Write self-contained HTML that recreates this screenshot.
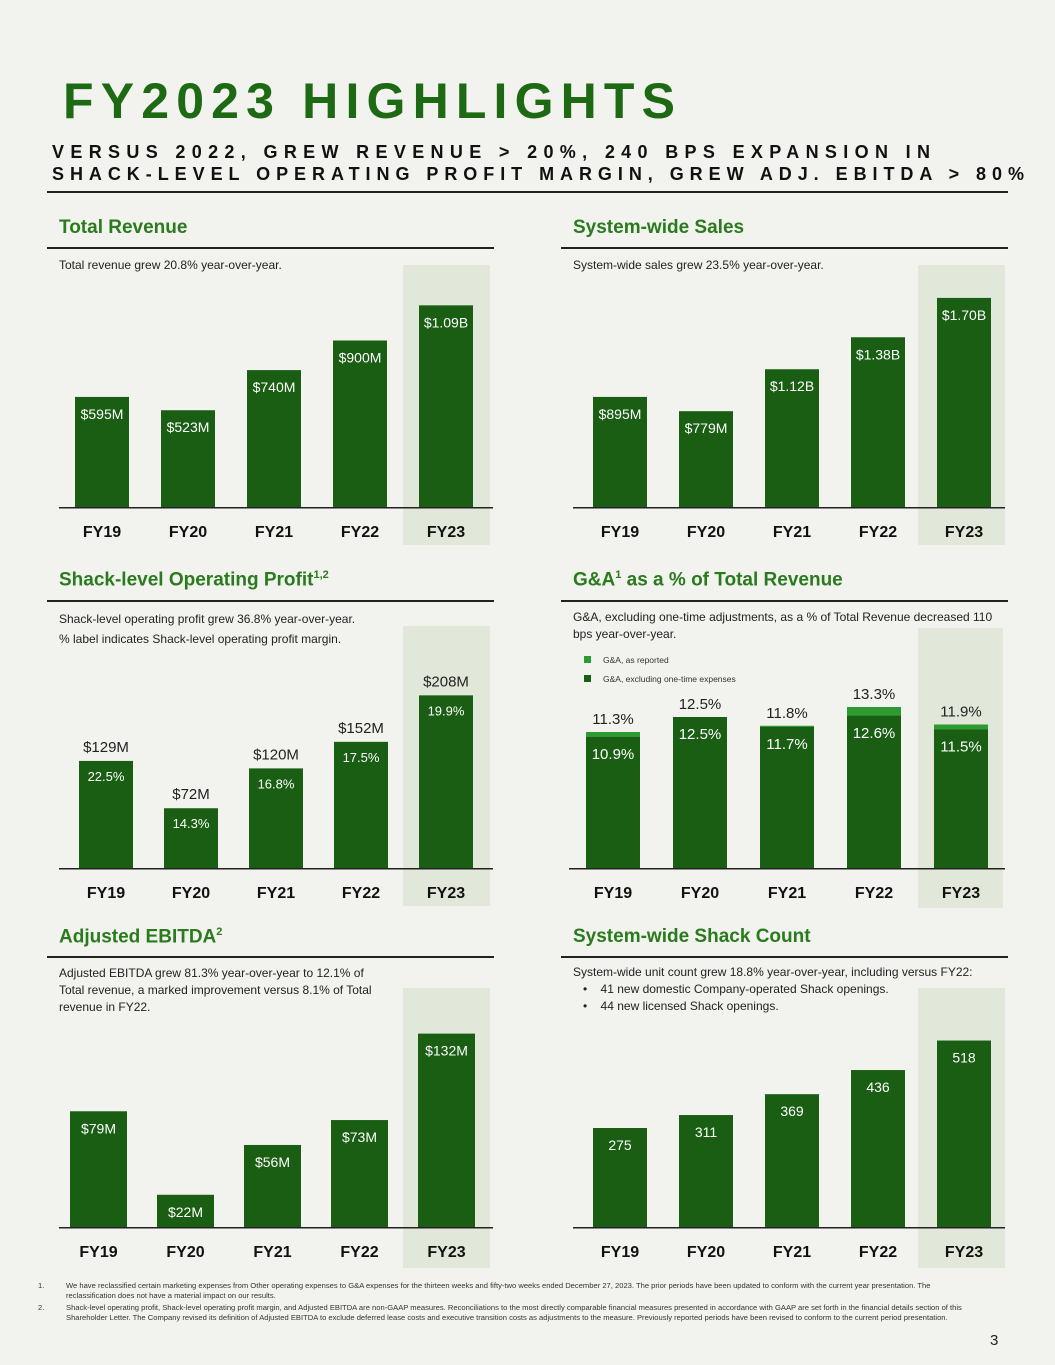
<!DOCTYPE html>
<html><head><meta charset="utf-8">
<style>
body{margin:0;background:#f2f2ee;}
#pg{position:relative;width:1055px;height:1365px;background:#f2f2ee;font-family:"Liberation Sans",sans-serif;overflow:hidden}
.t{position:absolute;white-space:nowrap}
.h{font-weight:bold;font-size:19px;color:#2a7a1e}
.d{font-size:12px;color:#222;line-height:17px;white-space:normal}
.rule{position:absolute;height:2px;background:#222}
.fn{position:absolute;font-size:7.6px;color:#333;line-height:9.5px;left:66px;width:900px}
.fn span{position:absolute;left:-28px}
</style></head><body>
<div id="pg">
<svg class="t" style="left:0;top:0" width="1055" height="200">
<text x="63" y="118" font-size="50" font-weight="bold" fill="#1e6a14" textLength="612" lengthAdjust="spacing" font-family="Liberation Sans">FY2023 HIGHLIGHTS</text>
<text x="52" y="158" font-size="18" font-weight="bold" fill="#111" textLength="878" lengthAdjust="spacing" font-family="Liberation Sans">VERSUS 2022, GREW REVENUE &gt; 20%, 240 BPS EXPANSION IN</text>
<text x="52" y="180" font-size="18" font-weight="bold" fill="#111" textLength="972" lengthAdjust="spacing" font-family="Liberation Sans">SHACK-LEVEL OPERATING PROFIT MARGIN, GREW ADJ. EBITDA &gt; 80%</text>
<rect x="47" y="191" width="961" height="2" fill="#222"/>
</svg>

<div class="t h" style="left:59px;top:217px">Total Revenue</div>
<div class="rule" style="left:47px;top:247px;width:447px"></div>
<div class="t d" style="left:59px;top:257px">Total revenue grew 20.8% year-over-year.</div>

<div class="t h" style="left:573px;top:217px">System-wide Sales</div>
<div class="rule" style="left:561px;top:247px;width:447px"></div>
<div class="t d" style="left:573px;top:257px">System-wide sales grew 23.5% year-over-year.</div>

<div class="t h" style="left:59px;top:569px">Shack-level Operating Profit<sup style="font-size:11px">1,2</sup></div>
<div class="rule" style="left:47px;top:600px;width:447px"></div>
<div class="t d" style="left:59px;top:611px;width:420px">Shack-level operating profit grew 36.8% year-over-year.<br><span style="line-height:23px">% label indicates Shack-level operating profit margin.</span></div>

<div class="t h" style="left:573px;top:569px">G&amp;A<sup style="font-size:11px">1</sup> as a % of Total Revenue</div>
<div class="rule" style="left:561px;top:600px;width:447px"></div>
<div class="t d" style="left:573px;top:609px;width:425px">G&amp;A, excluding one-time adjustments, as a % of Total Revenue decreased 110 bps year-over-year.</div>
<div class="t" style="left:584px;top:655px;font-size:8.5px;color:#333"><span style="display:inline-block;width:7px;height:7px;background:#2e9a32;margin-right:12px"></span>G&amp;A, as reported</div>
<div class="t" style="left:584px;top:674px;font-size:8.5px;color:#333"><span style="display:inline-block;width:7px;height:7px;background:#195e12;margin-right:12px"></span>G&amp;A, excluding one-time expenses</div>

<div class="t h" style="left:59px;top:926px">Adjusted EBITDA<sup style="font-size:11px">2</sup></div>
<div class="rule" style="left:47px;top:956px;width:447px"></div>
<div class="t d" style="left:59px;top:965px;width:330px">Adjusted EBITDA grew 81.3% year-over-year to 12.1% of Total revenue, a marked improvement versus 8.1% of Total revenue in FY22.</div>

<div class="t h" style="left:573px;top:926px">System-wide Shack Count</div>
<div class="rule" style="left:561px;top:956px;width:447px"></div>
<div class="t d" style="left:573px;top:964px;width:430px">System-wide unit count grew 18.8% year-over-year, including versus FY22:<br>&nbsp;&nbsp;&nbsp;•&nbsp;&nbsp;&nbsp;&nbsp;41 new domestic Company-operated Shack openings.<br>&nbsp;&nbsp;&nbsp;•&nbsp;&nbsp;&nbsp;&nbsp;44 new licensed Shack openings.</div>

<svg id="charts" class="t" style="left:0;top:0" width="1055" height="1365"></svg>

<div class="fn" style="top:1281px"><span>1.</span>We have reclassified certain marketing expenses from Other operating expenses to G&amp;A expenses for the thirteen weeks and fifty-two weeks ended December 27, 2023. The prior periods have been updated to conform with the current year presentation. The reclassification does not have a material impact on our results.</div>
<div class="fn" style="top:1303px"><span>2.</span>Shack-level operating profit, Shack-level operating profit margin, and Adjusted EBITDA are non-GAAP measures. Reconciliations to the most directly comparable financial measures presented in accordance with GAAP are set forth in the financial details section of this Shareholder Letter. The Company revised its definition of Adjusted EBITDA to exclude deferred lease costs and executive transition costs as adjustments to the measure. Previously reported periods have been revised to conform to the current period presentation.</div>
<div class="t" style="left:990px;top:1332px;font-size:15px;color:#222">3</div>
</div>
<script>
const categories = ["FY19","FY20","FY21","FY22","FY23"];
const revenueValues = [595, 523, 740, 900, 1090];
const revenueLabels = ["$595M","$523M","$740M","$900M","$1.09B"];
const salesValues = [895, 779, 1120, 1380, 1700];
const salesLabels = ["$895M","$779M","$1.12B","$1.38B","$1.70B"];
const profitValues = [129, 72, 120, 152, 208];
const profitLabels = ["$129M","$72M","$120M","$152M","$208M"];
const marginLabels = ["22.5%","14.3%","16.8%","17.5%","19.9%"];
const gaReported = [11.3, 12.5, 11.8, 13.3, 11.9];
const gaExcluding = [10.9, 12.5, 11.7, 12.6, 11.5];
const ebitdaValues = [79, 22, 56, 73, 132];
const ebitdaLabels = ["$79M","$22M","$56M","$73M","$132M"];
const countValues = [275, 311, 369, 436, 518];

const NS="http://www.w3.org/2000/svg";
const svg=document.getElementById('charts');
const DARK="#195e12", LIGHT="#2e9a32";
function mk(tag,attrs){const e=document.createElementNS(NS,tag);for(const k in attrs)e.setAttribute(k,attrs[k]);svg.appendChild(e);return e;}
function txt(x,y,s,size,fill,weight){const e=mk('text',{x:x,y:y,'text-anchor':'middle','font-size':size,fill:fill,'font-family':'Liberation Sans','font-weight':weight||'normal'});e.textContent=s;return e;}

function chart(o){
  const hl=mk('rect',{x:o.hl[0],y:o.hl[1],width:o.hl[2],height:o.hl[3],fill:'#e1e8d9'});
  
  
  const ax=mk('rect',{x:o.axis[0],y:o.base,width:o.axis[1]-o.axis[0],height:1.5,fill:'#222'});
  
  
  const y=v=>o.base-(v-(o.v0||0))*o.k;
  categories.forEach((c,i)=>{
    const x=o.x0+i*o.step, cx=x+o.bw/2;
    if(o.top){
      const r0=mk('rect',{x:x,y:y(o.top[i]),width:o.bw,height:o.base-y(o.top[i]),fill:LIGHT});
      
      
    }
    const v=o.vals[i];
    const r=mk('rect',{x:x,y:y(v),width:o.bw,height:o.base-y(v),fill:DARK});
    
    
    if(o.top){
      txt(cx,y(o.top[i])-8,o.top[i].toFixed(1)+'%',15,'#222');
      txt(cx,y(v)+22,v.toFixed(1)+'%',15,'#fff');
    } else if(o.outer){
      txt(cx,y(v)-9,o.labels[i],15,'#222');
      txt(cx,y(v)+20,o.outer[i],13,'#fff');
    } else {
      txt(cx,y(v)+22,o.labels?o.labels[i]:String(v),14,'#fff');
    }
    const l=txt(cx,o.base+30,c,16,'#111','bold');
    
    
  });
}
chart({name:'revenue',x0:75,step:86,bw:54,base:507,k:0.185,vals:revenueValues,labels:revenueLabels,hl:[403,265,87,280],axis:[59,493]});
chart({name:'sales',x0:593,step:86,bw:54,base:507,k:0.123,vals:salesValues,labels:salesLabels,hl:[918,265,87,280],axis:[573,1005]});
chart({name:'profit',x0:79,step:85,bw:54,base:868,k:0.83,vals:profitValues,labels:profitLabels,outer:marginLabels,hl:[403,626,87,280],axis:[59,493]});
chart({name:'ga',x0:586,step:87,bw:54,base:868,k:12.5,v0:0.42,vals:gaExcluding,top:gaReported,hl:[918,628,85,280],axis:[569,1005]});
chart({name:'ebitda',x0:70,step:87,bw:57,base:1227,k:1.465,vals:ebitdaValues,labels:ebitdaLabels,hl:[403,988,87,280],axis:[59,493]});
chart({name:'count',x0:593,step:86,bw:54,base:1227,k:0.36,vals:countValues,hl:[918,988,87,280],axis:[573,1005]});
</script>
</body></html>
